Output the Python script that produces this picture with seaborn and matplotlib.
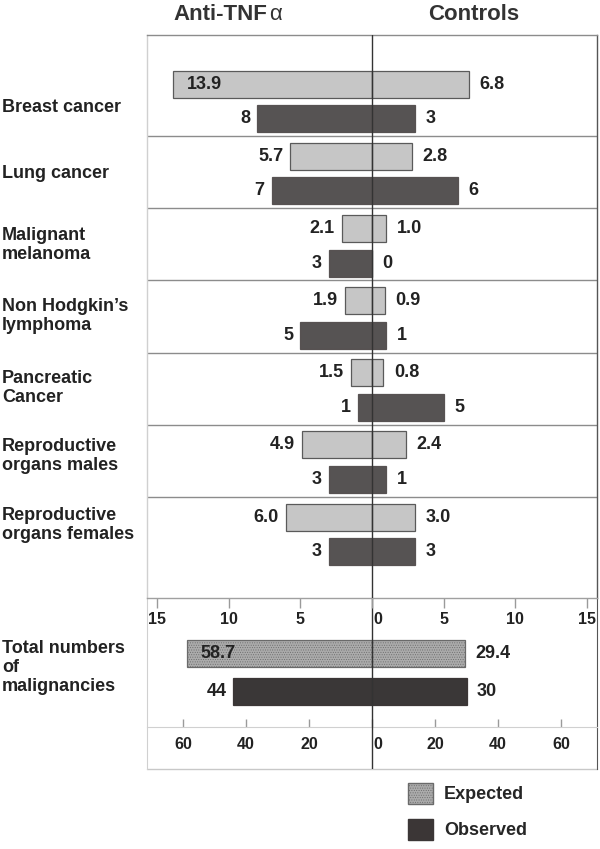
import matplotlib
matplotlib.use("Agg")
import matplotlib.pyplot as plt
import matplotlib.transforms as mtransforms
from matplotlib.patches import Patch
from matplotlib.ticker import FuncFormatter
import seaborn as sns
import pandas as pd

sns.set_style("white")
plt.rcParams["font.family"] = ["Liberation Sans", "DejaVu Sans"]
plt.rcParams["font.weight"] = "bold"
plt.rcParams["hatch.linewidth"] = 0.4

# ---------------- data ----------------
categories = ["Breast cancer", "Lung cancer", "Malignant\nmelanoma",
              "Non Hodgkin\u2019s\nlymphoma", "Pancreatic\nCancer",
              "Reproductive\norgans males", "Reproductive\norgans females"]
expected_anti = [13.9, 5.7, 2.1, 1.9, 1.5, 4.9, 6.0]
expected_ctrl = [6.8, 2.8, 1.0, 0.9, 0.8, 2.4, 3.0]
observed_anti = [8, 7, 3, 5, 1, 3, 3]
observed_ctrl = [3, 6, 0, 1, 5, 1, 3]

total_label = "Total numbers\nof\nmalignancies"
total_expected = [58.7, 29.4]   # anti-TNF, controls
total_observed = [44, 30]

top_ticks = [15, 10, 5, 0, 5, 10, 15]
bottom_ticks = [60, 40, 20, 0, 20, 40, 60]
side_names = ["Anti-TNF\u03b1", "Controls"]

# ---------------- style / layout ----------------
C_EXP = "#c6c6c6"
C_OBS = "#575252"
C_EXP_T = "#ababab"
C_OBS_T = "#3b3636"
EDGE = "#5a5a5a"
TXT = "#222222"
FS_VAL = 13
OFF = {"Expected": 0.28, "Observed": 0.76}
LABEL_DY = [0.60, 0.52, 0.515, 0.495, 0.49, 0.43, 0.394]

fig = plt.figure(figsize=(6, 8.49), dpi=100)
W, H = 600, 849
L, R = 147, 597
ax_bot = fig.add_axes([L / W, 1 - 769 / H, (R - L) / W, (769 - 598) / H])
ax_top = fig.add_axes([L / W, 1 - 598 / H, (R - L) / W, (598 - 35) / H])
ax_bot.set_facecolor("none")
ax_top.set_facecolor("none")

# ---------------- top panel ----------------
rows = []
for i, cat in enumerate(categories):
    rows.append(dict(cat=cat, kind="Expected", side=side_names[0], val=-expected_anti[i], pos=i + OFF["Expected"]))
    rows.append(dict(cat=cat, kind="Expected", side=side_names[1], val=expected_ctrl[i], pos=i + OFF["Expected"]))
    rows.append(dict(cat=cat, kind="Observed", side=side_names[0], val=-observed_anti[i], pos=i + OFF["Observed"]))
    rows.append(dict(cat=cat, kind="Observed", side=side_names[1], val=observed_ctrl[i], pos=i + OFF["Observed"]))
df_top = pd.DataFrame(rows)

for kind, col, ec in [("Expected", C_EXP, EDGE), ("Observed", C_OBS, C_OBS)]:
    sub = df_top[df_top["kind"] == kind]
    sns.barplot(data=sub, x="val", y="pos", hue="side", dodge=False, orient="h",
                native_scale=True, palette={side_names[0]: col, side_names[1]: col},
                width=0.374, edgecolor=ec, linewidth=0.9, errorbar=None,
                legend=False, ax=ax_top, zorder=2)

XT = 15.7
ax_top.set_xlim(-XT, XT)
ax_top.set_ylim(7.40, -0.40)
for b in range(1, len(categories)):
    ax_top.axhline(b, color="#8c8c8c", lw=1.0, zorder=1)
ax_top.axvline(0, color="#333333", lw=1.0, zorder=5)


def put_labels(ax, left, right, pos, fmt, xmax, fs):
    for v_l, v_r, p in zip(left, right, pos):
        t_l = fmt.format(v_l)
        if v_l / xmax > 0.75:
            ax.annotate(t_l, xy=(-v_l, p), xytext=(10, 0), textcoords="offset points",
                        ha="left", va="center", fontsize=fs, fontweight="bold", color=TXT, zorder=6)
        else:
            ax.annotate(t_l, xy=(-v_l, p), xytext=(-5, 0), textcoords="offset points",
                        ha="right", va="center", fontsize=fs, fontweight="bold", color=TXT, zorder=6)
        ax.annotate(fmt.format(v_r), xy=(v_r, p), xytext=(7.5, 0), textcoords="offset points",
                    ha="left", va="center", fontsize=fs, fontweight="bold", color=TXT, zorder=6)


n = len(categories)
put_labels(ax_top, expected_anti, expected_ctrl, [i + OFF["Expected"] for i in range(n)], "{:.1f}", XT, FS_VAL)
put_labels(ax_top, observed_anti, observed_ctrl, [i + OFF["Observed"] for i in range(n)], "{:d}", XT, FS_VAL)

ax_top.set_xticks([-t if k < 3 else t for k, t in enumerate(top_ticks)])
ax_top.xaxis.set_major_formatter(FuncFormatter(lambda v, p: f"{abs(v):.0f}"))
ax_top.tick_params(axis="x", direction="out", length=7, width=1, color="#9a9a9a",
                   labelsize=11.5, labelcolor=TXT, pad=3, bottom=True)
ax_top.set_yticks([])
ax_top.set_xlabel("")
ax_top.set_ylabel("")
for lab in ax_top.get_xticklabels():
    lab.set_fontweight("bold")
ax_top.spines["top"].set_color("#8c8c8c")
ax_top.spines["left"].set_color("#d0d0d0")
ax_top.spines["right"].set_color("#555555")
ax_top.spines["bottom"].set_color("#a0a0a0")
for s in ax_top.spines.values():
    s.set_linewidth(1.0)

tr_top = mtransforms.blended_transform_factory(fig.transFigure, ax_top.transData)
for i, cat in enumerate(categories):
    ax_top.text(2 / W, i + LABEL_DY[i], cat, transform=tr_top, ha="left", va="center",
                fontsize=13, fontweight="bold", color=TXT, linespacing=1.15)

# ---------------- bottom panel ----------------
df_bot = pd.DataFrame(dict(
    kind=["Expected", "Expected", "Observed", "Observed"],
    side=[side_names[0], side_names[1], side_names[0], side_names[1]],
    val=[-total_expected[0], total_expected[1], -total_observed[0], total_observed[1]],
    pos=[0, 0, 1, 1],
))
for kind, col, ec, hatch in [("Expected", C_EXP_T, "#6a6a6a", "......."), ("Observed", C_OBS_T, C_OBS_T, None)]:
    sub = df_bot[df_bot["kind"] == kind]
    n_before = len(ax_bot.patches)
    sns.barplot(data=sub, x="val", y="pos", hue="side", dodge=False, orient="h",
                native_scale=True, palette={side_names[0]: col, side_names[1]: col},
                width=0.71, edgecolor=ec, linewidth=0.9, errorbar=None,
                legend=False, ax=ax_bot, zorder=2)
    if hatch:
        for p in ax_bot.patches[n_before:]:
            p.set_hatch(hatch)

XB = 71.4
ax_bot.set_xlim(-XB, XB)
ax_bot.set_ylim(3.05, -1.447)
ax_bot.axvline(0, color="#333333", lw=1.0, zorder=5)
put_labels(ax_bot, [total_expected[0]], [total_expected[1]], [0], "{:.1f}", XB, FS_VAL)
put_labels(ax_bot, [total_observed[0]], [total_observed[1]], [1], "{:d}", XB, FS_VAL)

ax_bot.set_xticks([-t if k < 3 else t for k, t in enumerate(bottom_ticks)])
ax_bot.xaxis.set_major_formatter(FuncFormatter(lambda v, p: f"{abs(v):.0f}"))
ax_bot.spines["bottom"].set_position(("axes", (769 - 727) / (769 - 598)))
ax_bot.tick_params(axis="x", direction="in", length=6, width=1, color="#9a9a9a",
                   labelsize=11.5, labelcolor=TXT, pad=7, bottom=True)
ax_bot.set_yticks([])
ax_bot.set_xlabel("")
ax_bot.set_ylabel("")
for lab in ax_bot.get_xticklabels():
    lab.set_fontweight("bold")
ax_bot.spines["top"].set_visible(False)
ax_bot.spines["left"].set_color("#d0d0d0")
ax_bot.spines["right"].set_color("#555555")
ax_bot.spines["bottom"].set_color("#d0d0d0")
ax_bot.plot([0, 1], [0, 0], transform=ax_bot.transAxes, color="#c8c8c8", lw=1.0, clip_on=False)

# shift the "0" labels slightly right, as in the original
for ax in (ax_top, ax_bot):
    for tk in ax.xaxis.get_major_ticks():
        if abs(tk.get_loc()) < 1e-9:
            tk.label1.set_transform(tk.label1.get_transform() +
                                    mtransforms.ScaledTranslation(6 / 100, 0, fig.dpi_scale_trans))

tr_bot = mtransforms.blended_transform_factory(fig.transFigure, ax_bot.transData)
ax_bot.text(2 / W, 0.37, total_label, transform=tr_bot, ha="left", va="center",
            fontsize=13, fontweight="bold", color=TXT, linespacing=1.15)

# ---------------- titles ----------------
fig.text(267 / W, 1 - 15 / H, "Anti-TNF", ha="right", va="center", fontsize=16,
         fontweight="bold", color="#333333")
fig.text(269 / W, 1 - 15 / H, "\u03b1", ha="left", va="center", fontsize=16,
         fontweight="normal", color="#333333")
fig.text(474 / W, 1 - 15 / H, side_names[1], ha="center", va="center", fontsize=16,
         fontweight="bold", color="#333333")

# ---------------- legend ----------------
handles = [Patch(facecolor=C_EXP_T, edgecolor="#6a6a6a", hatch=".......", label="Expected"),
           Patch(facecolor=C_OBS_T, edgecolor=C_OBS_T, label="Observed")]
fig.legend(handles=handles, loc="upper left", bbox_to_anchor=(408 / W, 1 - 783 / H),
           frameon=False, handlelength=1.39, handleheight=1.39,
           handletextpad=0.6, labelspacing=0.85, borderpad=0, borderaxespad=0,
           prop={"weight": "bold", "size": 13})

fig.savefig("out.png", dpi=100)
